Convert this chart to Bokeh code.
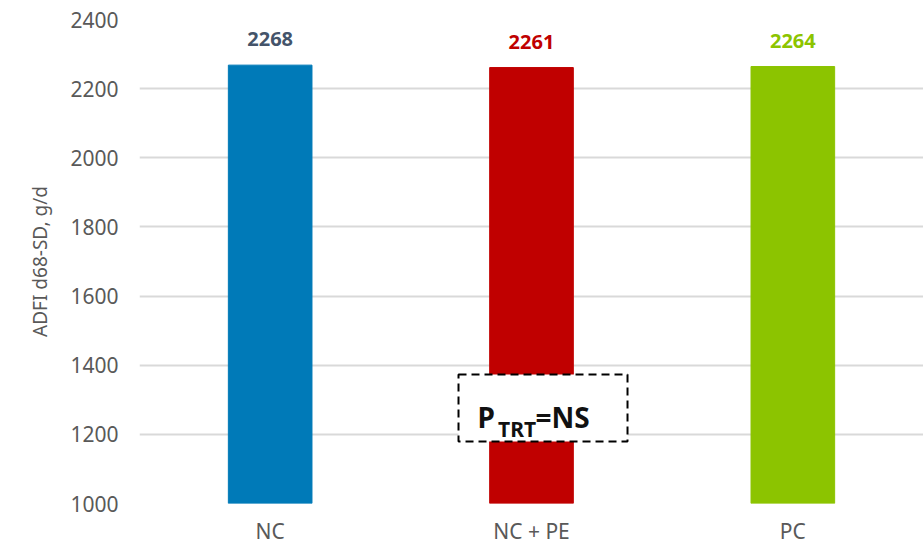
from bokeh.plotting import figure
from bokeh.models import ColumnDataSource, LabelSet, Label, BoxAnnotation, Range1d
from bokeh.core.properties import value
from bokeh.embed import file_html
from bokeh.resources import INLINE

# data
categories = ["NC", "NC + PE", "PC"]
values = [2268, 2261, 2264]
bar_colors = ["#007AB8", "#C00000", "#8CC400"]
label_colors = ["#44546A", "#C00000", "#8CC400"]
label_texts = [str(v) for v in values]
y_ticks = [1000, 1200, 1400, 1600, 1800, 2000, 2200, 2400]

FONT = "Noto Sans"

src = ColumnDataSource(dict(cat=categories, val=values, color=bar_colors,
                            lcolor=label_colors, txt=label_texts))

p = figure(x_range=categories, y_range=Range1d(1000, 2400),
           frame_width=784, frame_height=484,
           output_backend="svg", toolbar_location=None,
           min_border_left=139, min_border_right=0, min_border_top=19,
           min_border_bottom=40)
p.outline_line_color = None
p.background_fill_color = "white"
p.border_fill_color = "white"

p.vbar(x="cat", top="val", bottom=1000, width=0.32, color="color", source=src)

labels = LabelSet(x="cat", y="val", text="txt", source=src, text_color="lcolor",
                  text_align="center", text_baseline="bottom", y_offset=19,
                  text_font=value(FONT), text_font_size="20px",
                  text_font_style="bold")
p.add_layout(labels)

# axes
p.yaxis.ticker = y_ticks
p.yaxis.axis_line_color = None
p.yaxis.major_tick_line_color = None
p.yaxis.minor_tick_line_color = None
p.yaxis.major_label_text_font = FONT
p.yaxis.major_label_text_font_size = "21px"
p.yaxis.major_label_text_color = "#595959"
p.yaxis.major_label_standoff = 15
p.yaxis.axis_label = "ADFI d68-SD, g/d"
p.yaxis.axis_label_text_font = FONT
p.yaxis.axis_label_text_font_size = "19px"
p.yaxis.axis_label_text_font_style = "normal"
p.yaxis.axis_label_text_color = "#595959"
p.yaxis.axis_label_standoff = 14

p.xaxis.axis_line_color = None
p.xaxis.major_tick_line_color = None
p.xaxis.minor_tick_line_color = None
p.xaxis.major_label_text_font = FONT
p.xaxis.major_label_text_font_size = "21px"
p.xaxis.major_label_text_color = "#595959"
p.xaxis.major_label_standoff = 7

p.xgrid.grid_line_color = None
p.ygrid.grid_line_color = "#D9D9D9"
p.ygrid.grid_line_width = 2

# P_TRT = NS annotation box
box = BoxAnnotation(left=1.2207, right=1.8674, bottom=1179.3, top=1373.1,
                    fill_color="white", fill_alpha=1.0,
                    line_color="black", line_alpha=1.0, line_width=2,
                    line_dash="8 5", level="annotation")
p.add_layout(box)

p.add_layout(Label(x=1.293, y=1248.8, text="P", text_font=FONT,
                   text_font_size="28px", text_font_style="bold",
                   text_color="#111111", text_align="left",
                   text_baseline="alphabetic"))
p.add_layout(Label(x=1.372, y=1216.9, text="TRT", text_font=FONT,
                   text_font_size="21px", text_font_style="bold",
                   text_color="#111111", text_align="left",
                   text_baseline="alphabetic"))
p.add_layout(Label(x=1.515, y=1248.8, text="=NS", text_font=FONT,
                   text_font_size="28px", text_font_style="bold",
                   text_color="#111111", text_align="left",
                   text_baseline="alphabetic"))

open("out.html", "w").write(file_html(p, INLINE))
